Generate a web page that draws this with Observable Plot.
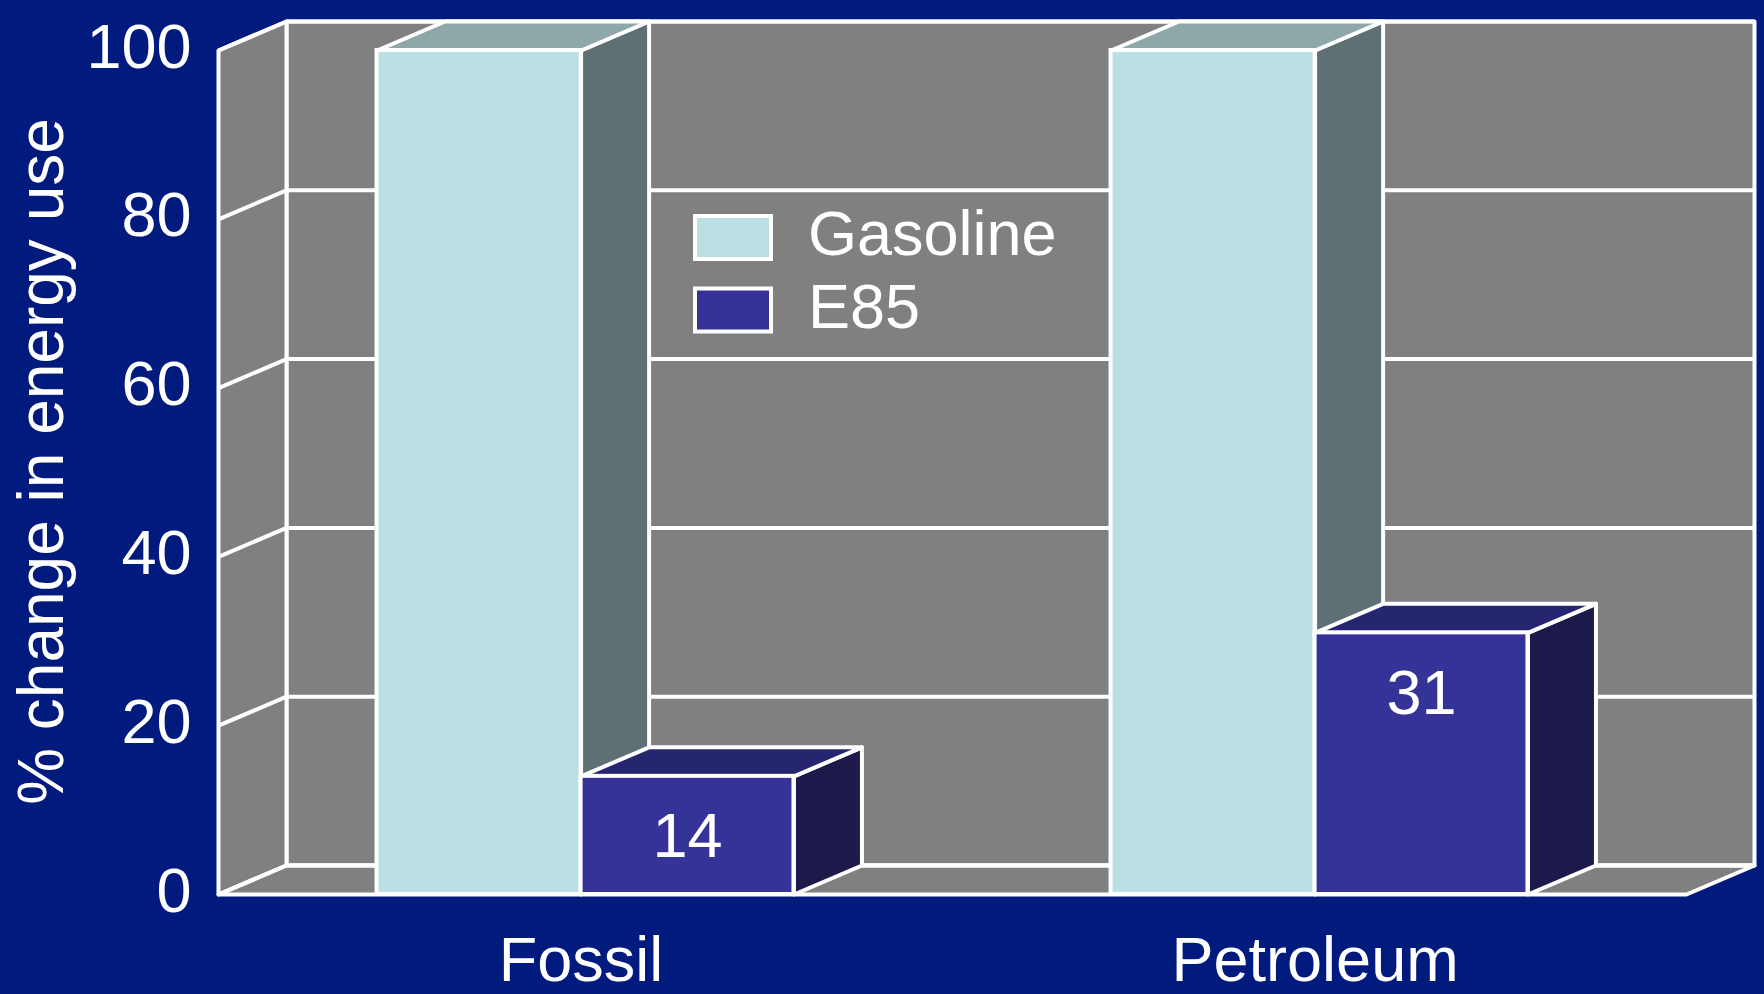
<!DOCTYPE html>
<html><head><meta charset="utf-8">
<script src="https://cdn.jsdelivr.net/npm/d3@7"></script>
<script src="https://cdn.jsdelivr.net/npm/@observablehq/plot@0.6"></script>
<style>html,body{margin:0;padding:0;background:#001a7d;overflow:hidden}</style>
</head><body><div id="chart"></div>
<script>
// ---- data ----
const categories = ["Fossil", "Petroleum"];
const series = ["Gasoline", "E85"];
const gasoline = [100, 100];
const e85 = [14, 31];
const yTicks = [0, 20, 40, 60, 80, 100];
const yTitle = "% change in energy use";

// ---- style / layout ----
const W = 1764, H = 994;
const M = {top: 50, right: 78, bottom: 100, left: 218};
const font = '"Liberation Sans", Arial, Helvetica, sans-serif';
const navy = "#001a7d", wallFill = "#808080", edge = "#ffffff", sw = 4;
const faceColors = {
  Gasoline: {front: "#bbe0e3", top: "#8ea8aa", side: "#5e7074"},
  E85: {front: "#353398", top: "#262570", side: "#1b1a4a"}
};
const nCat = categories.length;
const kx = 68 / ((W - M.left - M.right) / nCat);   // depth offset in x units
const ky = 29 / ((H - M.top - M.bottom) / 100);    // depth offset in y units
const barSpan = {Gasoline: [-0.284, -0.006], E85: [-0.006, 0.284]};

const bars = [];
categories.forEach((c, i) => {
  [gasoline[i], e85[i]].forEach((v, j) => {
    const s = series[j];
    bars.push({id: c + s, category: c, series: s, value: v,
      x1: i + 0.5 + barSpan[s][0], x2: i + 0.5 + barSpan[s][1]});
  });
});

function poly(id, pts) { return pts.concat([pts[0]]).map(([x, y]) => ({id, x, y})); }
const sides = s => bars.filter(b => b.series === s).flatMap(b =>
  poly(b.id, [[b.x2, 0], [b.x2, b.value], [b.x2 + kx, b.value + ky], [b.x2 + kx, ky]]));
const tops = s => bars.filter(b => b.series === s).flatMap(b =>
  poly(b.id, [[b.x1, b.value], [b.x2, b.value], [b.x2 + kx, b.value + ky], [b.x1 + kx, b.value + ky]]));

const backWall = poly("back", [[kx, ky], [nCat + kx, ky], [nCat + kx, 100 + ky], [kx, 100 + ky]]);
const leftWall = poly("left", [[0, 0], [0, 100], [kx, 100 + ky], [kx, ky]]);
const floor = poly("floor", [[0, 0], [nCat, 0], [nCat + kx, ky], [kx, ky]]);

const polyOpts = (fill) => ({x: "x", y: "y", z: "id", fill, stroke: edge, strokeWidth: sw, strokeLinejoin: "round"});

const marks = [
  Plot.line(backWall, polyOpts(wallFill)),
  Plot.line(leftWall, polyOpts(wallFill)),
  Plot.line(floor, polyOpts(wallFill)),
  Plot.link(yTicks, {x1: kx, x2: nCat + kx, y1: d => d + ky, y2: d => d + ky, stroke: edge, strokeWidth: sw}),
  Plot.link(yTicks, {x1: 0, x2: kx, y1: d => d, y2: d => d + ky, stroke: edge, strokeWidth: sw}),
];
for (const s of series) {
  const fb = bars.filter(b => b.series === s);
  marks.push(
    Plot.line(sides(s), polyOpts(faceColors[s].side)),
    Plot.line(tops(s), polyOpts(faceColors[s].top)),
    Plot.rect(fb, {x1: "x1", x2: "x2", y1: 0, y2: "value", fill: faceColors[s].front, stroke: edge, strokeWidth: sw})
  );
}
marks.push(
  Plot.text(bars.filter(b => b.series === "E85"), {
    x: d => (d.x1 + d.x2) / 2, y: "value", text: d => String(d.value),
    dy: 81, lineAnchor: "bottom", textAnchor: "middle", fill: "white", fontSize: 63
  }),
  Plot.axisY(yTicks, {anchor: "left", tickSize: 0, tickPadding: 27, fontSize: 63, dy: -3, label: null, fill: "white"}),
  Plot.text(categories, {
    x: (d, i) => i + 0.5 - 0.006, frameAnchor: "bottom", text: d => d,
    dy: 86, lineAnchor: "bottom", textAnchor: "middle", fill: "white", fontSize: 63
  }),
  Plot.text([yTitle], {
    frameAnchor: "left", text: d => d, rotate: -90, dx: -156, dy: -11,
    lineAnchor: "bottom", textAnchor: "middle", fill: "white", fontSize: 64
  })
);

const plot = Plot.plot({
  width: W, height: H,
  marginTop: M.top, marginRight: M.right, marginBottom: M.bottom, marginLeft: M.left,
  x: {type: "linear", domain: [0, nCat], axis: null},
  y: {type: "linear", domain: [0, 100]},
  style: {background: navy, color: "white", fontFamily: font, fontSize: "63px"},
  marks
});

// legend (inside plot area)
const svg = d3.select(plot);
const lg = svg.append("g").attr("font-family", font).attr("font-size", 63)
  .attr("fill", "white").attr("text-anchor", "start");
const legendX = 693, legendY = 214, rowStep = 72.5;
series.forEach((s, i) => {
  const y = legendY + i * rowStep;
  lg.append("rect").attr("x", legendX + 2).attr("y", y + 2).attr("width", 76).attr("height", 43)
    .attr("fill", faceColors[s].front).attr("stroke", edge).attr("stroke-width", 4);
  lg.append("text").attr("x", legendX + 115).attr("y", y + 41).attr("text-anchor", "start").text(s);
});

document.getElementById("chart").appendChild(plot);
</script></body></html>
